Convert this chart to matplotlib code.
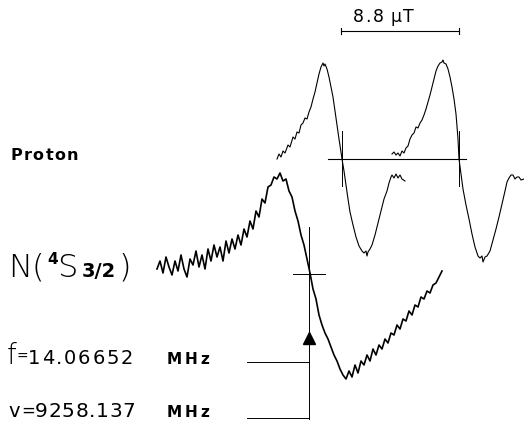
import matplotlib
matplotlib.use("Agg")
import matplotlib.pyplot as plt
import numpy as np

# 图上坐标按原图像素读取（x 向右，y 向下）

# N(4S3/2) 谱线：等间隔场点上的信号
n_x_start = 157
n_x_step = 3
n_y = [
    270, 262, 274, 258, 268, 276, 262, 272, 256, 270,
    278, 260, 266, 252, 268, 256, 270, 250, 262, 246,
    258, 248, 262, 242, 254, 240, 250, 236, 246, 230,
    238, 222, 230, 212, 218, 200, 204, 188, 186, 178,
    180, 174, 182, 180, 192, 198, 212, 222, 236, 246,
    260, 274, 290, 300, 316, 326, 334, 340, 348, 356,
    362, 370, 376, 380, 372, 378, 366, 374, 362, 366,
    356, 362, 350, 356, 346, 350, 340, 344, 334, 336,
    326, 330, 320, 322, 312, 316, 306, 308, 298, 300,
    292, 294, 286, 284, 278, 272,
]

# 质子谱线（两条，相隔 8.8 μT）
proton_a_x = [
    277, 279, 281, 283, 285, 288, 290, 293, 295, 297, 299, 301, 303, 305,
    307, 309, 311, 313, 315, 317, 319, 321, 322, 323, 324, 325, 327, 329,
    331, 333, 335, 337, 339, 341, 342, 344, 346, 348, 350, 353, 356, 359,
    362, 364, 366, 367, 368, 370, 372, 375, 378, 381, 384, 387, 389, 391,
    392, 394, 396, 398, 400, 402, 405,
]
proton_a_y = [
    160, 155, 158, 152, 154, 146, 148, 138, 140, 133, 134, 126, 124, 119,
    120, 113, 108, 100, 93, 84, 75, 68, 66, 64, 67, 65, 70, 78,
    88, 98, 112, 126, 140, 153, 160, 172, 186, 200, 213, 226, 238, 247,
    252, 254, 252, 257, 253, 250, 246, 236, 224, 212, 200, 192, 184, 178,
    176, 179, 175, 179, 176, 180, 182,
]
proton_b_x = [
    392, 394, 396, 398, 400, 402, 404, 406, 408, 410, 412, 414, 416, 418,
    420, 422, 424, 426, 428, 430, 432, 434, 436, 438, 440, 442, 443, 444,
    446, 448, 450, 452, 454, 456, 458, 459, 461, 463, 466, 469, 472, 475,
    478, 480, 482, 483, 485, 487, 490, 493, 496, 499, 502, 505, 507, 509,
    511, 513, 515, 517, 519, 521, 524,
]
proton_b_y = [
    155, 153, 156, 154, 157, 152, 154, 149, 147, 140, 136, 134, 128, 129,
    124, 121, 116, 110, 103, 96, 88, 80, 72, 67, 64, 63, 61, 64,
    65, 70, 78, 88, 100, 115, 140, 160, 175, 190, 206, 220, 235, 248,
    257, 259, 257, 263, 258, 257, 252, 241, 230, 218, 205, 192, 183, 179,
    176, 176, 180, 178, 178, 181, 180,
]

# 标记线
proton_zero_x = [342, 459]
proton_baseline = (328, 466, 160)
scale_bar = (341, 459, 32)
scale_label = "8.8 μT"
n_center = (309, 275)


def spaced_text(ax, renderer, x, y, s, spacing, **kw):
    """逐字放置文字，模拟原图中字母间距较大的字体。"""
    for ch in s:
        if ch == " ":
            probe = ax.text(0, 0, "n", **kw)
            x += probe.get_window_extent(renderer).width * 0.35 + spacing
            probe.remove()
            continue
        t = ax.text(x, y, ch, va="baseline", **kw)
        x += t.get_window_extent(renderer).width + spacing
    return x


def draw(output_image):
    fig = plt.figure(figsize=(5.24, 4.27), dpi=100)
    ax = fig.add_axes([0, 0, 1, 1])
    ax.set_xlim(0, 524)
    ax.set_ylim(427, 0)
    ax.axis("off")
    renderer = fig.canvas.get_renderer()

    ink = "black"
    font = "DejaVu Sans"

    # 谱线
    n_x = n_x_start + n_x_step * np.arange(len(n_y))
    ax.plot(n_x, n_y, color=ink, lw=1.2)
    ax.plot(proton_a_x, proton_a_y, color=ink, lw=0.8)
    ax.plot(proton_b_x, proton_b_y, color=ink, lw=0.8)

    # 质子基线与过零标记
    x0, x1, yb = proton_baseline
    ax.plot([x0, x1], [yb, yb], color=ink, lw=0.8)
    for xz in proton_zero_x:
        ax.plot([xz, xz], [yb - 28, yb + 27], color=ink, lw=0.7)

    # 比例尺
    s0, s1, ys = scale_bar
    ax.plot([s0, s1], [ys, ys], color=ink, lw=0.8)
    for xs in (s0, s1):
        ax.plot([xs, xs], [ys - 3, ys + 3], color=ink, lw=0.8)
    spaced_text(ax, renderer, 353, ys - 10, scale_label, 1.6,
                fontsize=12.5, family=font)

    # N 谱线中心十字与箭头
    cx, cy = n_center
    ax.plot([cx - 16, cx + 16], [cy, cy], color=ink, lw=0.7)
    ax.plot([cx, cx], [228, 420], color=ink, lw=0.7)
    ax.plot([cx], [339], marker="^", markersize=8, color=ink, lw=0)
    ax.plot([247, cx], [363, 363], color=ink, lw=0.7)
    ax.plot([247, cx], [419, 419], color=ink, lw=0.7)

    # 文字
    spaced_text(ax, renderer, 10, 160, "Proton", 1.5, fontsize=11.5,
                fontweight="bold", family=font)
    ax.text(8, 277, "N(", fontsize=23, fontweight="light", family=font,
            va="baseline")
    ax.text(47, 264, "4", fontsize=11, fontweight="bold", family=font,
            va="baseline")
    ax.text(57, 277, "S", fontsize=23, fontweight="light", family=font,
            va="baseline")
    ax.text(82, 277, "3/2", fontsize=14, fontweight="bold", family=font,
            va="baseline")
    ax.text(118, 277, ")", fontsize=23, fontweight="light", family=font,
            va="baseline")

    ax.text(7, 364, "f", fontsize=20, fontweight="light", family=font,
            va="baseline")
    ax.text(17, 361, "=", fontsize=10, family=font, va="baseline")
    spaced_text(ax, renderer, 28, 364, "14.06652", 1.7, fontsize=14,
                family=font)
    spaced_text(ax, renderer, 167, 364, "MHz", 2.8, fontsize=11,
                fontweight="bold", family=font)

    ax.text(8, 417, "v", fontsize=14, family=font, va="baseline")
    ax.text(21, 416, "=", fontsize=12, family=font, va="baseline")
    spaced_text(ax, renderer, 35, 417, "9258.137", 0.6, fontsize=14.5,
                family=font)
    spaced_text(ax, renderer, 167, 417, "MHz", 2.8, fontsize=11,
                fontweight="bold", family=font)

    fig.savefig(output_image, dpi=100)


def main():
    draw("out.png")


if __name__ == "__main__":
    main()
